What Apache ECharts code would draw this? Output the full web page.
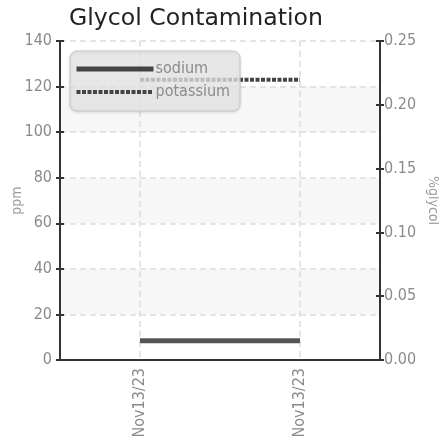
<!DOCTYPE html>
<html><head><meta charset="utf-8">
<script src="https://cdn.jsdelivr.net/npm/echarts@6/dist/echarts.min.js"></script>
<style>html,body{margin:0;padding:0;background:#fff}#c{width:439px;height:441px}</style>
</head><body><div id="c"></div>
<script>
const categories = ['Nov13/23', 'Nov13/23'];
const sodium = [8.5, 8.5];
const potassium = [123, 123];
const leftTicks = {min: 0, max: 140, interval: 20};
const rightTicks = {min: 0, max: 0.25, interval: 0.05};

const FONT = '"DejaVu Sans Condensed", "Liberation Sans Narrow", sans-serif';
const LBL = '#8a8a8a';
const AX = '#333';

const chart = echarts.init(document.getElementById('c'));
chart.setOption({
  animation: false,
  title: {text: 'Glycol Contamination', left: 64, top: 2,
    textStyle: {fontFamily: 'DejaVu Sans', fontSize: 23.6, fontWeight: 'normal', color: '#222'}},
  grid: {left: 60, right: 59, top: 41, bottom: 81, containLabel: false, outerBoundsMode: 'none'},
  legend: {
    left: 70, top: 51, orient: 'vertical', itemWidth: 77, itemHeight: 14, itemGap: 7,
    padding: [10, 10, 11, 4],
    backgroundColor: 'rgba(232,232,232,0.75)', borderColor: '#c8c8c8', borderWidth: 1, borderRadius: 7,
    shadowColor: 'rgba(0,0,0,0.15)', shadowBlur: 3, shadowOffsetY: 1,
    textStyle: {fontFamily: FONT, fontSize: 16, color: LBL, padding: [0, 0, 0, -3]},
    data: [
      {name: 'sodium', itemStyle: {color: 'rgba(0,0,0,0)', borderWidth: 0, opacity: 0},
        lineStyle: {width: 5, color: '#444', type: 'solid'}},
      {name: 'potassium', itemStyle: {color: 'rgba(0,0,0,0)', borderWidth: 0, opacity: 0},
        lineStyle: {width: 4, color: '#444', type: [4, 1.5]}}
    ]
  },
  xAxis: [
    {type: 'category', data: categories, boundaryGap: true, position: 'bottom',
      axisLine: {lineStyle: {color: AX, width: 2}},
      axisTick: {alignWithLabel: true, length: 4, lineStyle: {color: AX, width: 2}},
      axisLabel: {rotate: 90, fontFamily: FONT, fontSize: 16, color: LBL, margin: 8},
      splitLine: {show: true, alignWithLabel: true, lineStyle: {color: '#ddd', type: [6, 4], width: 1.5}}},
    {type: 'category', data: categories, boundaryGap: true, position: 'bottom',
      axisLine: {show: false},
      axisTick: {alignWithLabel: true, inside: true, length: 4, lineStyle: {color: AX, width: 2}},
      axisLabel: {show: false}, splitLine: {show: false}}
  ],
  yAxis: [
    {type: 'value', position: 'left', min: leftTicks.min, max: leftTicks.max, interval: leftTicks.interval,
      name: 'ppm', nameLocation: 'middle', nameGap: 36, nameRotate: 90, nameMoveOverlap: false,
      nameTextStyle: {fontFamily: FONT, fontSize: 14, color: '#999'},
      axisLine: {show: true, lineStyle: {color: AX, width: 2}},
      axisTick: {show: true, length: 4, lineStyle: {color: AX, width: 2}},
      axisLabel: {fontFamily: FONT, fontSize: 16, color: LBL, margin: 8},
      splitLine: {show: true, lineStyle: {color: '#ddd', type: [6, 4], width: 1.5}},
      splitArea: {show: true, areaStyle: {color: ['#ffffff', '#f7f7f7']}}},
    {type: 'value', position: 'right', min: rightTicks.min, max: rightTicks.max, interval: rightTicks.interval,
      name: '%glycol', nameLocation: 'middle', nameGap: 46, nameRotate: -90, nameMoveOverlap: false,
      nameTextStyle: {fontFamily: FONT, fontSize: 14, color: '#999'},
      axisLine: {show: true, lineStyle: {color: AX, width: 2}},
      axisTick: {show: true, length: 4, lineStyle: {color: AX, width: 2}},
      axisLabel: {fontFamily: FONT, fontSize: 16, color: LBL, margin: 4, formatter: v => v.toFixed(2)},
      splitLine: {show: false}},
    {type: 'value', position: 'left', min: leftTicks.min, max: leftTicks.max, interval: leftTicks.interval,
      axisLine: {show: false}, axisLabel: {show: false}, splitLine: {show: false},
      axisTick: {show: true, inside: true, length: 4, lineStyle: {color: AX, width: 2}}},
    {type: 'value', position: 'right', min: rightTicks.min, max: rightTicks.max, interval: rightTicks.interval,
      axisLine: {show: false}, axisLabel: {show: false}, splitLine: {show: false},
      axisTick: {show: true, inside: true, length: 4, lineStyle: {color: AX, width: 2}}}
  ],
  series: [
    {name: 'sodium', type: 'line', data: sodium, xAxisIndex: 0, yAxisIndex: 0, symbol: 'none',
      lineStyle: {width: 5, color: '#555'}, itemStyle: {color: '#555'}},
    {name: 'potassium', type: 'line', data: potassium, xAxisIndex: 0, yAxisIndex: 0, symbol: 'none',
      lineStyle: {width: 4, color: '#444', type: [4, 1.5]}, itemStyle: {color: '#444'}}
  ]
});
</script></body></html>
